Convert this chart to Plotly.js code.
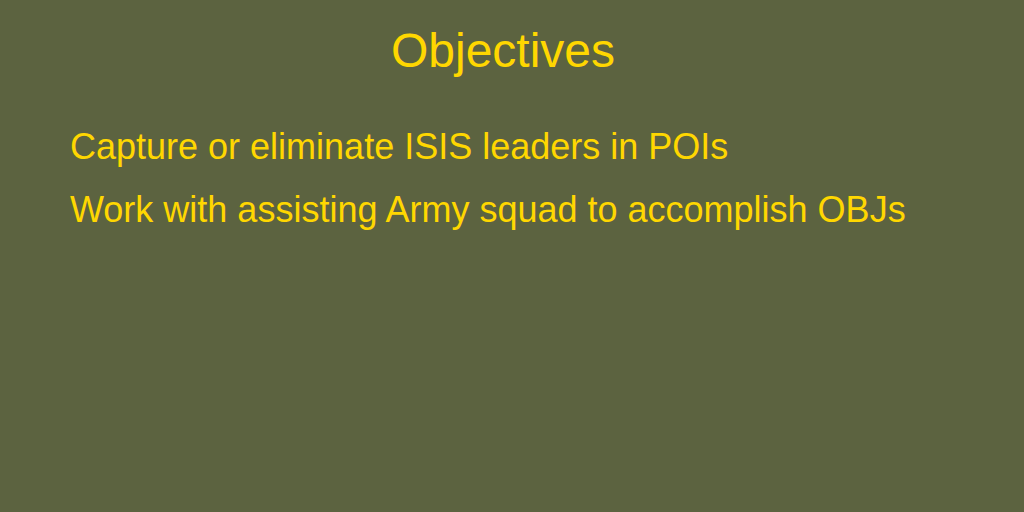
<!DOCTYPE html>
<html>
<head>
<meta charset="utf-8">
<script src="https://cdn.plot.ly/plotly-3.0.1.min.js"></script>
<style>
  html, body { margin: 0; padding: 0; background: #5C6340; }
  #slide { width: 1024px; height: 512px; }
</style>
</head>
<body>
<div id="slide"></div>
<script>
  // Slide content
  const TITLE = "Objectives";
  const ITEMS = [
    "Capture or eliminate ISIS leaders in POIs",
    "Work with assisting Army squad to accomplish OBJs",
  ];
  const ITEM_ROWS = [146, 209];   // pixel centre of each line from the top

  const BG = "#5C6340";
  const GOLD = "#FFD700";
  const FONT = "Liberation Sans, Arial, sans-serif";
  const H = 512;

  const annotations = ITEMS.map((t, i) => ({
    text: t, xref: "paper", yref: "paper",
    x: 68 / 1024, y: 1 - ITEM_ROWS[i] / H,
    xanchor: "left", yanchor: "middle", showarrow: false,
    font: { family: FONT, size: 36, color: GOLD },
  }));

  const layout = {
    width: 1024, height: 512,
    paper_bgcolor: BG, plot_bgcolor: BG,
    margin: { l: 0, r: 0, t: 0, b: 0 },
    title: {
      text: TITLE, x: 503 / 1024, xanchor: "center",
      y: 1 - 50 / H, yanchor: "middle", yref: "container",
      font: { family: FONT, size: 48, color: GOLD },
    },
    xaxis: { visible: false, range: [0, 1] },
    yaxis: { visible: false, range: [0, 1] },
    showlegend: false,
    annotations,
  };

  Plotly.newPlot("slide", [], layout, { displayModeBar: false, staticPlot: true });
</script>
</body>
</html>
